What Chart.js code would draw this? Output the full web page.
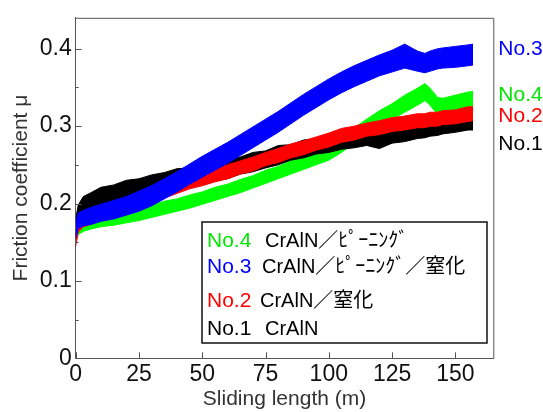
<!DOCTYPE html>
<html><head><meta charset="utf-8">
<script src="https://cdn.jsdelivr.net/npm/chart.js@4.4.1/dist/chart.umd.min.js"></script>
<style>html,body{margin:0;padding:0;background:#fff;}canvas{display:block;}</style>
</head><body>
<canvas id="c" width="543" height="412"></canvas>
<script>
// ---- data ----
const lengthM = [0,1,3,6,10,15,20,25,30,35,40,45,50,55,60,65,70,75,80,85,90,95,100,105,110,115,120,125,130,135,138,140,143,145,150,155,157];
// No.1 CrAlN (black) – upper / lower edge of the noisy trace
const no1Upper = [0.180,0.198,0.209,0.214,0.221,0.224,0.230,0.232,0.237,0.240,0.245,0.246,0.251,0.253,0.259,0.260,0.266,0.268,0.275,0.276,0.282,0.284,0.289,0.290,0.295,0.296,0.292,0.298,0.300,0.305,0.306,0.308,0.309,0.311,0.313,0.318,0.318];
const no1Lower = [0.160,0.172,0.182,0.188,0.190,0.197,0.199,0.205,0.208,0.213,0.216,0.222,0.224,0.229,0.232,0.238,0.241,0.246,0.250,0.256,0.259,0.264,0.266,0.270,0.272,0.275,0.271,0.278,0.280,0.284,0.285,0.287,0.288,0.290,0.292,0.295,0.295];
// No.2 CrAlN/窒化 (red)
const no2Upper = [0.158,0.181,0.186,0.191,0.197,0.201,0.208,0.211,0.218,0.223,0.231,0.235,0.242,0.244,0.250,0.255,0.260,0.266,0.271,0.277,0.281,0.286,0.291,0.297,0.300,0.304,0.307,0.311,0.313,0.316,0.316,0.318,0.318,0.320,0.321,0.325,0.325];
const no2Lower = [0.145,0.163,0.170,0.173,0.178,0.185,0.189,0.195,0.199,0.207,0.213,0.219,0.223,0.228,0.232,0.238,0.242,0.249,0.253,0.259,0.263,0.269,0.273,0.279,0.282,0.287,0.289,0.293,0.295,0.298,0.298,0.300,0.300,0.302,0.303,0.306,0.307];
// No.3 CrAlN/ピーニング/窒化 (blue)
const no3Upper = [0.175,0.188,0.191,0.195,0.199,0.204,0.209,0.216,0.223,0.232,0.241,0.251,0.261,0.270,0.279,0.289,0.299,0.309,0.319,0.330,0.341,0.351,0.361,0.370,0.378,0.385,0.392,0.398,0.406,0.397,0.394,0.397,0.400,0.401,0.403,0.405,0.406];
const no3Lower = [0.155,0.168,0.171,0.173,0.177,0.180,0.185,0.190,0.197,0.206,0.215,0.225,0.234,0.243,0.252,0.262,0.272,0.282,0.292,0.303,0.314,0.324,0.334,0.343,0.351,0.358,0.365,0.370,0.375,0.371,0.369,0.371,0.374,0.375,0.376,0.378,0.379];
// No.4 CrAlN/ピーニング (green)
const no4Upper = [0.168,0.176,0.180,0.184,0.186,0.189,0.191,0.195,0.198,0.203,0.206,0.211,0.215,0.221,0.225,0.231,0.236,0.243,0.248,0.255,0.260,0.267,0.274,0.286,0.298,0.309,0.320,0.329,0.340,0.349,0.355,0.349,0.337,0.336,0.340,0.344,0.345];
const no4Lower = [0.150,0.160,0.164,0.167,0.170,0.172,0.175,0.178,0.182,0.186,0.190,0.194,0.199,0.204,0.209,0.214,0.220,0.226,0.232,0.238,0.244,0.250,0.256,0.266,0.278,0.289,0.300,0.309,0.318,0.327,0.333,0.327,0.315,0.314,0.318,0.322,0.323];

const xTicks = [0,25,50,75,100,125,150];
const yTicks = [0,0.1,0.2,0.3,0.4];
const yMinorTicks = [0.05,0.15,0.25,0.35];
const seriesNames = ['No.4','No.3','No.2','No.1'];
const seriesDescs = ['CrAlN／ﾋﾟｰﾆﾝｸﾞ','CrAlN／ﾋﾟｰﾆﾝｸﾞ／窒化','CrAlN／窒化','CrAlN'];
const endLabelNames = ['No.3','No.4','No.2','No.1'];

// ---- styles / layout ----
const COLORS = {'No.1':'#000000','No.2':'#ff0000','No.3':'#0000ff','No.4':'#00ff00'};
const TEXT_COLORS = {'No.1':'#000000','No.2':'#ff0000','No.3':'#0000ff','No.4':'#00e600'};
const LATIN = "'Liberation Sans', Arial, sans-serif";
const MIXED = "'Liberation Sans', 'Noto Sans CJK JP', sans-serif";
const LEGEND_BOX = {left:202, top:222, right:487, bottom:343};
const LEGEND_ROWS = [247, 273, 307, 335];
const LEGEND_DESC_X = [265, 262, 260, 265];
const END_LABEL_BASE = [55, 101, 122, 150];

const pts = arr => arr.map((v,i)=>({x:lengthM[i], y:v}));
function band(name, upper, lower){
  const c = COLORS[name];
  return [
    {label:name+' lower', data:pts(lower), borderColor:c, borderWidth:1, pointRadius:0, fill:false, tension:0},
    {label:name+' upper', data:pts(upper), borderColor:c, borderWidth:1, pointRadius:0, fill:'-1', backgroundColor:c, tension:0}
  ];
}
const datasets = [
  ...band('No.3', no3Upper, no3Lower),
  ...band('No.2', no2Upper, no2Lower),
  ...band('No.1', no1Upper, no1Lower),
  ...band('No.4', no4Upper, no4Lower)
];

const decor = {
  id:'decor',
  afterDatasetsDraw(chart){
    const {ctx, chartArea:a, scales:{x,y}} = chart;
    ctx.save();
    ctx.strokeStyle = '#555'; ctx.lineWidth = 1;
    ctx.beginPath();
    ctx.moveTo(a.left, a.top+0.5); ctx.lineTo(a.right+0.5, a.top+0.5); ctx.lineTo(a.right+0.5, a.bottom);
    xTicks.forEach(v=>{ const px = Math.round(x.getPixelForValue(v))+0.5; ctx.moveTo(px, a.bottom); ctx.lineTo(px, a.bottom-6); });
    yTicks.forEach(v=>{ const py = Math.round(y.getPixelForValue(v))+0.5; ctx.moveTo(a.left, py); ctx.lineTo(a.left+6, py); });
    yMinorTicks.forEach(v=>{ const py = Math.round(y.getPixelForValue(v))+0.5; ctx.moveTo(a.left, py); ctx.lineTo(a.left+3, py); });
    ctx.stroke();

    // legend box
    ctx.fillStyle = '#fff';
    ctx.fillRect(LEGEND_BOX.left, LEGEND_BOX.top, LEGEND_BOX.right-LEGEND_BOX.left, LEGEND_BOX.bottom-LEGEND_BOX.top);
    ctx.strokeStyle = '#111'; ctx.lineWidth = 1.5;
    ctx.strokeRect(LEGEND_BOX.left, LEGEND_BOX.top, LEGEND_BOX.right-LEGEND_BOX.left, LEGEND_BOX.bottom-LEGEND_BOX.top);
    ctx.textBaseline = 'alphabetic'; ctx.textAlign = 'left';
    seriesNames.forEach((n,i)=>{
      ctx.font = '21px ' + LATIN;
      ctx.fillStyle = TEXT_COLORS[n];
      ctx.fillText(n, LEGEND_BOX.left+5, LEGEND_ROWS[i]);
      ctx.font = '20px ' + MIXED;
      ctx.fillStyle = '#000';
      ctx.fillText(seriesDescs[i], LEGEND_DESC_X[i], LEGEND_ROWS[i]);
    });
    // end labels right of plot
    ctx.font = '21px ' + LATIN;
    endLabelNames.forEach((n,i)=>{
      ctx.fillStyle = TEXT_COLORS[n];
      ctx.fillText(n, a.right+5, END_LABEL_BASE[i]);
    });
    ctx.restore();
  }
};

new Chart(document.getElementById('c'), {
  type:'line',
  data:{datasets},
  options:{
    responsive:false, animation:false,
    layout:{padding:{top:15.7, right:49.7, left:0, bottom:0}},
    plugins:{legend:{display:false}, tooltip:{enabled:false}},
    scales:{
      x:{type:'linear', min:0, max:165,
        afterFit(s){ s.height = 53.7; },
        afterBuildTicks(s){ s.ticks = xTicks.map(v=>({value:v})); },
        grid:{display:false, drawTicks:false},
        border:{display:true, color:'#555', width:1},
        ticks:{font:{family:LATIN, size:23}, color:'#111', padding:3, maxRotation:0, autoSkip:false},
        title:{display:true, text:'Sliding length (m)', font:{family:LATIN, size:21}, color:'#333', padding:{top:0,bottom:0}}
      },
      y:{type:'linear', min:0, max:0.44,
        afterFit(s){ s.width = 75.7; },
        afterBuildTicks(s){ s.ticks = yTicks.map(v=>({value:v})); },
        grid:{display:false, drawTicks:false},
        border:{display:true, color:'#555', width:1},
        ticks:{font:{family:LATIN, size:23}, color:'#111', padding:4, callback:v=>String(Math.round(v*10)/10)},
        title:{display:true, text:'Friction coefficient μ', font:{family:LATIN, size:21}, color:'#333', padding:{top:9,bottom:0}}
      }
    }
  },
  plugins:[decor]
});
</script>
</body></html>
